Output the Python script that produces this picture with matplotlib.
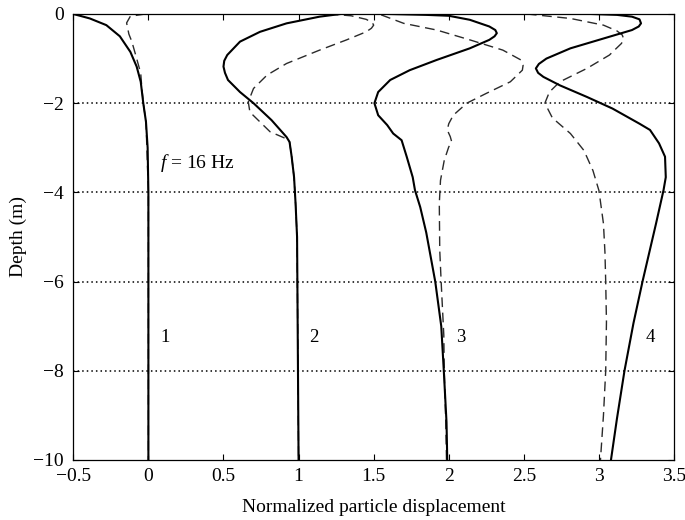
import matplotlib
matplotlib.use("Agg")
import matplotlib.pyplot as plt

# displacement profiles vs depth, one solid and one dashed line per curve number
depth_1s = [0, -0.1, -0.25, -0.5, -0.85, -1.18, -1.52, -2.0, -2.42, -3.0, -4.0, -10.0]
disp_1s = [-0.5, -0.39, -0.28, -0.19, -0.12, -0.078, -0.051, -0.034, -0.016, -0.005, 0.0, 0.0]
depth_1d = [0, -0.05, -0.2, -0.45, -0.62, -1.0, -1.33, -1.6, -2.0, -2.42, -4.0, -10.0]
disp_1d = [-0.02, -0.12, -0.145, -0.13, -0.11, -0.078, -0.051, -0.045, -0.034, -0.016, 0.0, 0.0]

depth_2s = [0, -0.06, -0.21, -0.4, -0.62, -0.92, -1.05, -1.18, -1.32, -1.48, -1.75, -2.0,
            -2.38, -2.76, -2.87, -3.2, -3.66, -4.25, -5.0, -10.0]
disp_2s = [1.28, 1.14, 0.92, 0.743, 0.61, 0.525, 0.505, 0.50, 0.51, 0.53, 0.61, 0.70,
           0.82, 0.92, 0.94, 0.954, 0.97, 0.98, 0.99, 1.0]
depth_2d = [0, -0.04, -0.12, -0.19, -0.25, -0.32, -0.4, -0.58, -0.81, -1.11, -1.37, -1.67,
            -1.97, -2.2, -2.42, -2.64, -2.8, -2.87, -3.2, -3.66, -4.25, -5.0, -10.0]
disp_2d = [1.2, 1.35, 1.45, 1.49, 1.50, 1.485, 1.45, 1.32, 1.14, 0.92, 0.79, 0.70,
           0.665, 0.676, 0.743, 0.81, 0.92, 0.94, 0.954, 0.97, 0.98, 0.99, 1.0]

depth_3s = [0, -0.02, -0.04, -0.13, -0.28, -0.36, -0.43, -0.5, -0.58, -0.77, -1.03, -1.26,
            -1.48, -1.75, -2.0, -2.27, -2.49, -2.68, -2.83, -3.2, -3.66, -3.95, -4.33, -4.9,
            -6.0, -7.0, -8.0, -9.15, -10.0]
disp_3s = [1.6, 1.85, 2.0, 2.14, 2.27, 2.31, 2.32, 2.305, 2.27, 2.14, 1.92, 1.74,
           1.61, 1.53, 1.505, 1.53, 1.59, 1.63, 1.686, 1.72, 1.76, 1.775, 1.81, 1.85,
           1.91, 1.95, 1.967, 1.985, 1.99]
depth_3d = [-0.02, -0.21, -0.36, -0.58, -0.81, -1.03, -1.15, -1.26, -1.52, -1.78, -2.0, -2.27,
            -2.46, -2.6, -2.75, -2.87, -2.98, -3.28, -3.73, -4.25, -5.3, -6.05, -7.2, -8.0,
            -9.15, -10.0]
disp_3d = [1.55, 1.70, 1.92, 2.14, 2.36, 2.48, 2.495, 2.49, 2.41, 2.25, 2.12, 2.03,
           2.0, 1.99, 2.01, 2.02, 2.0, 1.97, 1.945, 1.937, 1.94, 1.95, 1.967, 1.97,
           1.98, 1.985]

depth_4s = [0, -0.02, -0.06, -0.12, -0.21, -0.28, -0.36, -0.55, -0.77, -1.0, -1.12, -1.22,
            -1.32, -1.41, -1.6, -1.86, -2.12, -2.46, -2.6, -2.9, -3.2, -3.66, -3.95, -4.7,
            -6.0, -6.93, -8.0, -9.07, -10.0]
disp_4s = [2.95, 3.12, 3.22, 3.27, 3.28, 3.265, 3.22, 3.03, 2.81, 2.65, 2.60, 2.58,
           2.595, 2.63, 2.74, 2.92, 3.09, 3.27, 3.34, 3.40, 3.44, 3.445, 3.43, 3.38,
           3.29, 3.23, 3.17, 3.12, 3.08]
depth_4d = [0, -0.1, -0.25, -0.38, -0.47, -0.56, -0.66, -0.92, -1.22, -1.52, -1.75, -2.0,
            -2.33, -2.68, -3.06, -3.51, -3.96, -4.7, -5.35, -6.0, -6.9, -8.0, -9.0, -10.0]
disp_4d = [2.52, 2.81, 3.03, 3.12, 3.155, 3.165, 3.15, 3.07, 2.92, 2.74, 2.67, 2.64,
           2.69, 2.81, 2.90, 2.96, 3.0, 3.03, 3.04, 3.045, 3.05, 3.045, 3.03, 3.01]

curve_labels = ["1", "2", "3", "4"]
label_x = [0.11, 1.10, 2.08, 3.34]
label_depth = -7.25

xticks = [-0.5, 0, 0.5, 1, 1.5, 2, 2.5, 3, 3.5]
xtick_labels = ["\u22120.5", "0", "0.5", "1", "1.5", "2", "2.5", "3", "3.5"]
yticks = [-10, -8, -6, -4, -2, 0]
ytick_labels = ["\u221210", "\u22128", "\u22126", "\u22124", "\u22122", "0"]
grid_depths = [-2, -4, -6, -8]

plt.rcParams["font.family"] = ["Liberation Serif", "DejaVu Serif"]
plt.rcParams["mathtext.fontset"] = "custom"
plt.rcParams["mathtext.it"] = "Liberation Serif:italic"
plt.rcParams["mathtext.rm"] = "Liberation Serif"

fig = plt.figure(figsize=(6.85, 5.2), dpi=100)
ax = fig.add_axes([0.107, 0.1154, 0.877, 0.8577])

for d in grid_depths:
    ax.axhline(d, color="black", lw=1.1, ls=(0, (1, 2)), zorder=1)

dashed = [(disp_1d, depth_1d), (disp_2d, depth_2d), (disp_3d, depth_3d), (disp_4d, depth_4d)]
solid = [(disp_1s, depth_1s), (disp_2s, depth_2s), (disp_3s, depth_3s), (disp_4s, depth_4s)]
for x, y in dashed:
    ax.plot(x, y, color="#2a2a2a", lw=1.0, ls=(0, (7, 4)), zorder=2)
for x, y in solid:
    ax.plot(x, y, color="black", lw=1.5, zorder=3)

for lab, lx in zip(curve_labels, label_x):
    ax.text(lx, label_depth, lab, fontsize=13.5, ha="center", va="center")

ax.text(0.08, -3.35, r"$f$ = 16 Hz", fontsize=14, ha="left", va="center")

ax.set_xlim(-0.5, 3.5)
ax.set_ylim(-10, 0)
ax.set_xticks(xticks)
ax.set_xticklabels(xtick_labels)
ax.set_yticks(yticks)
ax.set_yticklabels(ytick_labels)
ax.tick_params(direction="in", top=True, right=True, length=4, width=0.8,
               labelsize=14)
ax.tick_params(axis="x", pad=6)
ax.tick_params(axis="y", pad=7)
for s in ax.spines.values():
    s.set_linewidth(0.9)

ax.set_xlabel("Normalized particle displacement", fontsize=14, labelpad=10)
ax.set_ylabel("Depth (m)", fontsize=14, labelpad=4)

fig.savefig("out.png", dpi=100)
